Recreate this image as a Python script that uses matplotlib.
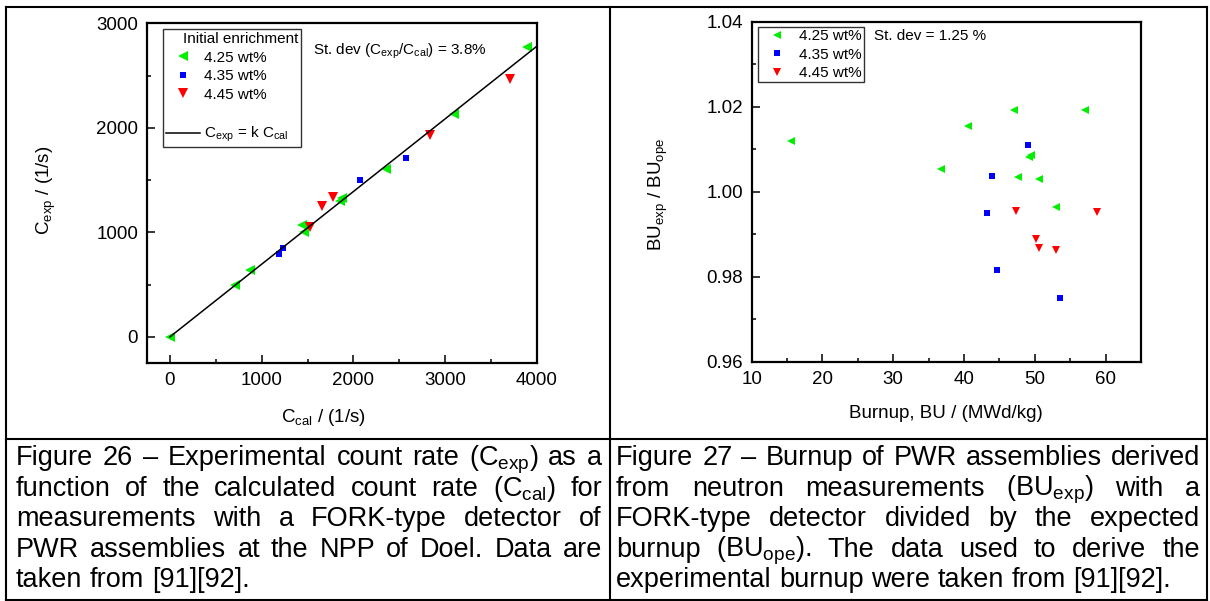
import matplotlib
matplotlib.use('Agg')
import matplotlib.pyplot as plt
from matplotlib.lines import Line2D
from matplotlib.ticker import MultipleLocator, FormatStrFormatter
import numpy as np

plt.rcParams['font.family'] = ['Liberation Sans', 'DejaVu Sans']
plt.rcParams['mathtext.fontset'] = 'custom'
plt.rcParams['mathtext.rm'] = 'Liberation Sans'
plt.rcParams['mathtext.it'] = 'Liberation Sans:italic'
plt.rcParams['mathtext.bf'] = 'Liberation Sans:bold'

# ---------------- data (Figure 26) ----------------
cal_425 = [0, 710, 870, 1439, 1457, 1858, 1876, 2355, 3096, 3896]
exp_425 = [3, 495, 642, 1068, 1008, 1303, 1327, 1606, 2133, 2772]
cal_435 = [1184, 1228, 2076, 2575]
exp_435 = [792, 848, 1500, 1709]
cal_445 = [1530, 1658, 1778, 2832, 3703]
exp_445 = [1048, 1252, 1335, 1935, 2470]
fit_x = [0, 4000]
k_fit = 0.6955

# ---------------- data (Figure 27) ----------------
bu_425 = [15.5, 36.8, 40.6, 47.0, 47.6, 49.2, 49.4, 50.6, 53.0, 57.1]
r_425 = [1.0120, 1.0054, 1.0155, 1.0193, 1.0035, 1.0082, 1.0086, 1.0030, 0.9964, 1.0192]
bu_435 = [43.2, 44.0, 44.6, 49.0, 53.6]
r_435 = [0.9951, 1.0036, 0.9815, 1.0111, 0.9749]
bu_445 = [47.4, 50.2, 50.6, 53.0, 58.8]
r_445 = [0.9955, 0.9889, 0.9868, 0.9863, 0.9952]

labels = ['4.25 wt%', '4.35 wt%', '4.45 wt%']

caption_left = [
    r"Figure 26 – Experimental count rate (C$_\mathregular{exp}$) as a",
    r"function of the calculated count rate (C$_\mathregular{cal}$) for",
    "measurements with a FORK-type detector of",
    "PWR assemblies at the NPP of Doel. Data are",
    "taken from [91][92].",
]
caption_right = [
    "Figure 27 – Burnup of PWR assemblies derived",
    r"from neutron measurements (BU$_\mathregular{exp}$) with a",
    "FORK-type detector divided by the expected",
    r"burnup (BU$_\mathregular{ope}$). The data used to derive the",
    "experimental burnup were taken from [91][92].",
]

GREEN = '#00ee00'
BLUE = '#0000ff'
RED = '#ff0000'

W, H = 1210, 601
fig = plt.figure(figsize=(W / 100, H / 100), dpi=100)


def px_rect(x0, y0, x1, y1):
    return [x0 / W, 1 - y1 / H, (x1 - x0) / W, (y1 - y0) / H]


def fx(x):
    return x / W


def fy(y):
    return 1 - y / H


TICK_FS = 13.5


def style_axes(ax):
    for s in ax.spines.values():
        s.set_linewidth(1.6)
        s.set_color('black')
    ax.tick_params(which='both', direction='in', top=False, right=False,
                   labelsize=TICK_FS, width=1.1)
    ax.tick_params(which='major', length=5.8, pad=6.4)
    ax.tick_params(which='minor', length=3.0)


# ---------------- left axes ----------------
ax1 = fig.add_axes(px_rect(147, 23.3, 537, 363))
h1 = ax1.plot(cal_425, exp_425, ls='none', marker='<', ms=6.5, mew=0, color=GREEN, zorder=2)[0]
h2 = ax1.plot(cal_435, exp_435, ls='none', marker='s', ms=5.0, mew=0, color=BLUE, zorder=2)[0]
h3 = ax1.plot(cal_445, exp_445, ls='none', marker='v', ms=6.5, mew=0, color=RED, zorder=2)[0]
hl = ax1.plot(fit_x, k_fit * np.array(fit_x), color='black', lw=1.1, zorder=3)[0]
ax1.set_xlim(-250, 4000)
ax1.set_ylim(-250, 3000)
ax1.xaxis.set_major_locator(MultipleLocator(1000))
ax1.xaxis.set_minor_locator(MultipleLocator(500))
ax1.yaxis.set_major_locator(MultipleLocator(1000))
ax1.yaxis.set_minor_locator(MultipleLocator(500))
style_axes(ax1)

blank = Line2D([], [], ls='none', marker=None)
leg1 = ax1.legend(handles=[h1, h2, h3, blank, hl],
                  labels=labels + [' ', r'C$_\mathregular{exp}$ = k C$_\mathregular{cal}$'],
                  loc='upper left', bbox_to_anchor=((163 - 147) / 390, 1 - (29 - 23.3) / 339.7),
                  borderaxespad=0, fontsize=11, title='    Initial enrichment', title_fontsize=11,
                  alignment='left', handlelength=2.2, handletextpad=0.26, borderpad=0.2,
                  labelspacing=0.3, frameon=True, fancybox=False, edgecolor='#333333',
                  framealpha=1)
leg1.get_frame().set_linewidth(1.0)

fig.text(fx(313), fy(55), r'St. dev (C$_\mathregular{exp}$/C$_\mathregular{cal}$) = 3.8%',
         fontsize=11, ha='left', va='baseline')
fig.text(fx(46), fy(190), r'C$_\mathregular{exp}$ / (1/s)', fontsize=TICK_FS,
         rotation=90, ha='center', va='center')
fig.text(fx(323), fy(417), r'C$_\mathregular{cal}$ / (1/s)', fontsize=TICK_FS,
         ha='center', va='center')

# ---------------- right axes ----------------
ax2 = fig.add_axes(px_rect(751.7, 21.7, 1141, 361.7))
g1 = ax2.plot(bu_425, r_425, ls='none', marker='<', ms=5.5, mew=0, color=GREEN)[0]
g2 = ax2.plot(bu_435, r_435, ls='none', marker='s', ms=4.0, mew=0, color=BLUE)[0]
g3 = ax2.plot(bu_445, r_445, ls='none', marker='v', ms=5.2, mew=0, color=RED)[0]
ax2.set_xlim(10, 65)
ax2.set_ylim(0.96, 1.04)
ax2.xaxis.set_major_locator(MultipleLocator(10))
ax2.xaxis.set_minor_locator(MultipleLocator(5))
ax2.yaxis.set_major_locator(MultipleLocator(0.02))
ax2.yaxis.set_minor_locator(MultipleLocator(0.01))
ax2.yaxis.set_major_formatter(FormatStrFormatter('%.2f'))
style_axes(ax2)

leg2 = ax2.legend(handles=[g1, g2, g3], labels=labels, loc='upper left',
                  bbox_to_anchor=((758.3 - 751.7) / 389.3, 1 - (26.7 - 21.7) / 340),
                  borderaxespad=0, fontsize=11, handlelength=2.1, handletextpad=0.4,
                  borderpad=0.15, labelspacing=0.3, frameon=True, fancybox=False,
                  edgecolor='#333333', framealpha=1)
leg2.get_frame().set_linewidth(1.0)

fig.text(fx(874), fy(39.5), 'St. dev = 1.25 %', fontsize=11, ha='left', va='baseline')
fig.text(fx(658), fy(194), r'BU$_\mathregular{exp}$ / BU$_\mathregular{ope}$', fontsize=TICK_FS,
         rotation=90, ha='center', va='center')
fig.text(fx(946), fy(414), 'Burnup, BU / (MWd/kg)', fontsize=TICK_FS,
         ha='center', va='center')

# ---------------- table frame ----------------
TL = 1.5
for (xa, ya, xb, yb) in [(6, 7, 1207, 7), (6, 600, 1207, 600), (6, 7, 6, 600),
                         (1207, 7, 1207, 600), (610, 7, 610, 600), (6, 439, 1207, 439)]:
    fig.add_artist(Line2D([fx(xa), fx(xb)], [fy(ya), fy(yb)], color='black', lw=TL,
                          transform=fig.transFigure, solid_capstyle='projecting'))

# ---------------- captions (justified) ----------------
CAP_FS = 19.5
renderer = fig.canvas.get_renderer()
t_a = fig.text(0, 0, 'a a', fontsize=CAP_FS)
t_b = fig.text(0, 0, 'aa', fontsize=CAP_FS)
space_w = t_a.get_window_extent(renderer).width - t_b.get_window_extent(renderer).width
t_a.remove()
t_b.remove()


def caption(lines, x0, x1, base0, dy):
    for i, line in enumerate(lines):
        words = line.split(' ')
        y = fy(base0 + i * dy)
        ts = [fig.text(0, y, w, fontsize=CAP_FS, ha='left', va='baseline') for w in words]
        widths = [t.get_window_extent(renderer).width for t in ts]
        if i < len(lines) - 1 and len(words) > 1:
            gap = (x1 - x0 - sum(widths)) / (len(words) - 1)
        else:
            gap = space_w
        x = x0
        for t, w in zip(ts, widths):
            t.set_x(fx(x))
            x += w + gap


caption(caption_left, 16, 602, 465, 30.6)
caption(caption_right, 616, 1200, 465, 30.6)

fig.savefig('out.png', dpi=100)
